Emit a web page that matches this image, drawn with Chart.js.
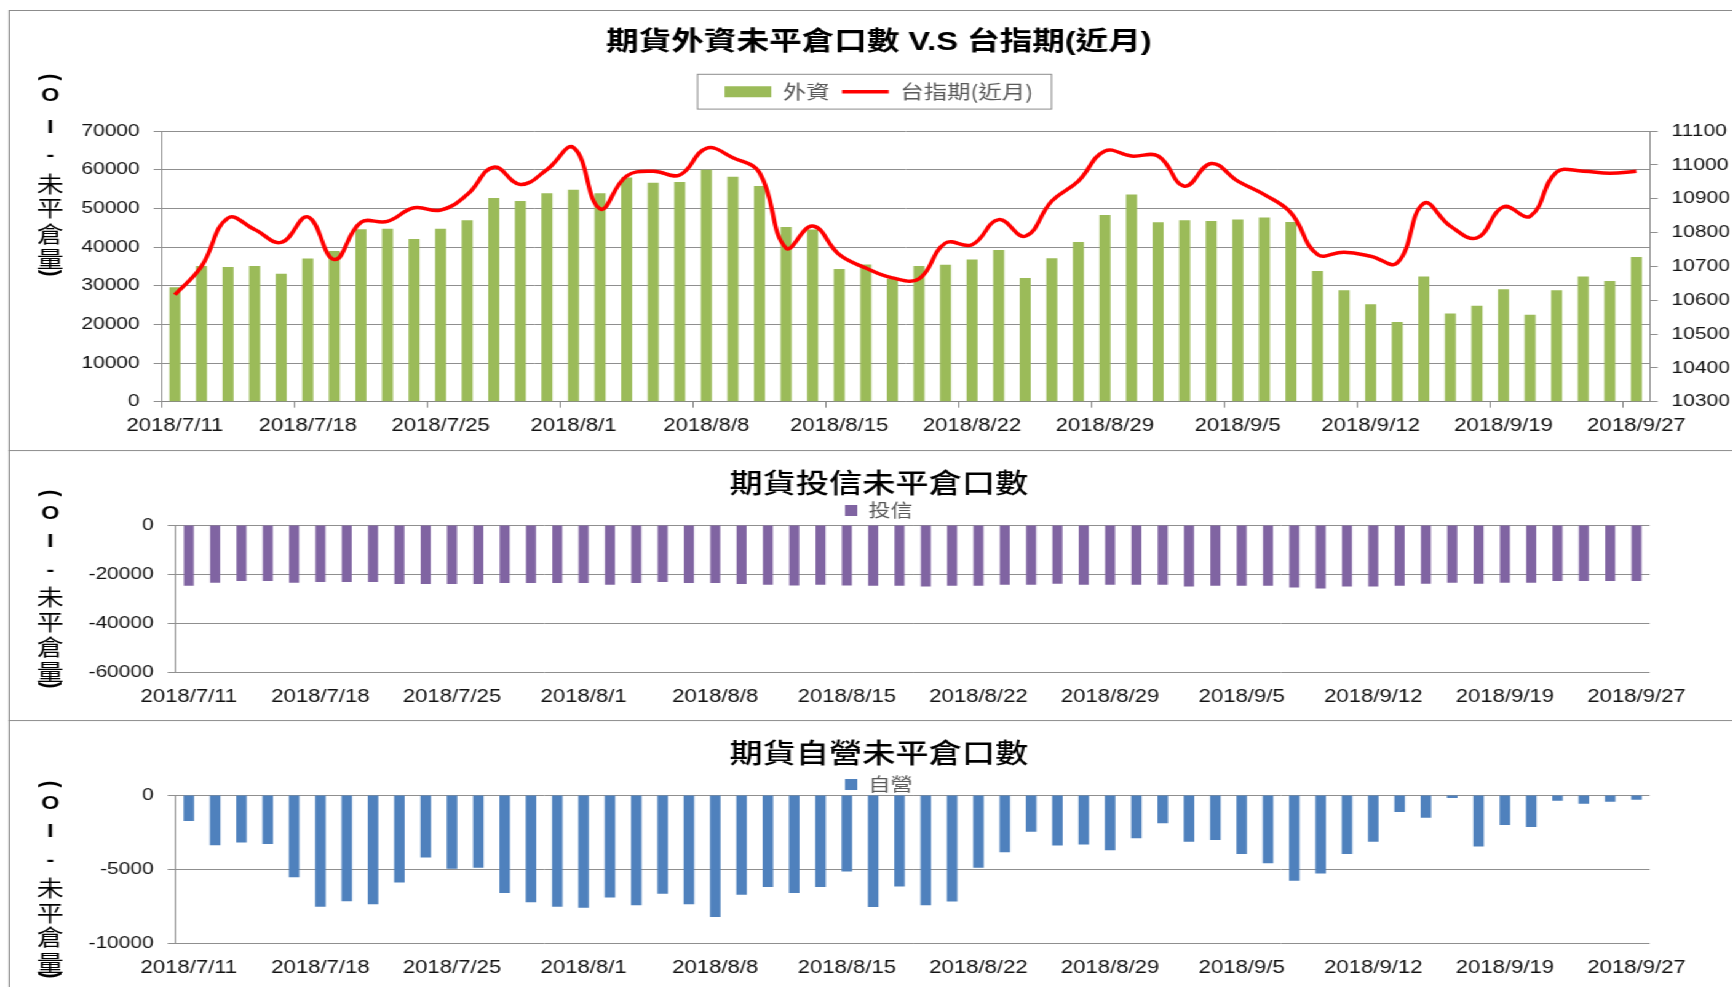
<!DOCTYPE html>
<html>
<head>
<meta charset="utf-8">
<script src="https://cdn.jsdelivr.net/npm/chart.js@4.4.1/dist/chart.umd.min.js"></script>
<style>
html,body{margin:0;padding:0;background:#fff;overflow:hidden;width:1732px;height:987px;}
#wrap{position:absolute;left:0;top:0;width:1440px;height:987px;transform:scaleX(1.23);transform-origin:0 0;}
.box{position:absolute;left:7.3px;width:1500px;border:1.5px solid #8c8c8c;box-sizing:border-box;}
canvas{position:absolute;left:7.3px;}
</style>
</head>
<body>
<div id="wrap">
  <div class="box" style="top:10px;height:441px"></div>
  <div class="box" style="top:450px;height:271px"></div>
  <div class="box" style="top:720px;height:320px"></div>
  <canvas id="c1" width="1415" height="440" style="top:10px"></canvas>
  <canvas id="c2" width="1415" height="270" style="top:450px"></canvas>
  <canvas id="c3" width="1415" height="267" style="top:720px"></canvas>
</div>
<script>
// ---------------- data ----------------
const dates = ['2018/7/11','2018/7/12','2018/7/13','2018/7/16','2018/7/17','2018/7/18','2018/7/19','2018/7/20','2018/7/23','2018/7/24',
  '2018/7/25','2018/7/26','2018/7/27','2018/7/30','2018/7/31','2018/8/1','2018/8/2','2018/8/3','2018/8/6','2018/8/7',
  '2018/8/8','2018/8/9','2018/8/10','2018/8/13','2018/8/14','2018/8/15','2018/8/16','2018/8/17','2018/8/20','2018/8/21',
  '2018/8/22','2018/8/23','2018/8/24','2018/8/27','2018/8/28','2018/8/29','2018/8/30','2018/8/31','2018/9/3','2018/9/4',
  '2018/9/5','2018/9/6','2018/9/7','2018/9/10','2018/9/11','2018/9/12','2018/9/13','2018/9/14','2018/9/17','2018/9/18',
  '2018/9/19','2018/9/20','2018/9/21','2018/9/25','2018/9/26','2018/9/27'];

const foreignOI = [29600,35100,34800,35100,33100,37000,39000,44600,44700,42100,
  44700,46900,52700,51900,53900,54800,53900,58000,56600,56800,
  60000,58200,55800,45200,44500,34300,35500,31800,35100,35400,
  36800,39200,32000,37100,41300,48300,53600,46400,46900,46700,
  47100,47600,46500,33800,28800,25200,20600,32400,22800,24800,
  29100,22500,28800,32400,31200,37400];

const taiexNear = [10616,10700,10843,10809,10771,10846,10720,10830,10833,10873,
  10866,10912,10993,10942,10986,11051,10870,10967,10981,10970,
  11049,11021,10977,10754,10819,10735,10695,10666,10663,10769,
  10764,10838,10789,10893,10952,11041,11026,11026,10937,11004,
  10952,10912,10858,10735,10742,10730,10710,10886,10819,10784,
  10876,10848,10979,10981,10975,10981];

const trustOI = [-24700,-23500,-22800,-22800,-23500,-23200,-23200,-23200,-24000,-24000,
  -24000,-24000,-23600,-23600,-23600,-23600,-24300,-23600,-23200,-23600,
  -23600,-24000,-24300,-24600,-24300,-24600,-24700,-24700,-25100,-24700,
  -24700,-24300,-24300,-23900,-24300,-24300,-24300,-24300,-25100,-24700,
  -24700,-24700,-25500,-25900,-25100,-25100,-24700,-23900,-23500,-23900,
  -23500,-23500,-22800,-22800,-22800,-22800];

const dealerOI = [-1750,-3390,-3210,-3300,-5540,-7540,-7160,-7360,-5900,-4220,
  -4980,-4910,-6600,-7230,-7540,-7600,-6910,-7430,-6660,-7360,
  -8230,-6730,-6210,-6600,-6210,-5160,-7560,-6170,-7430,-7180,
  -4910,-3860,-2470,-3410,-3340,-3720,-2910,-1900,-3160,-3030,
  -3970,-4600,-5790,-5300,-3970,-3160,-1140,-1530,-200,-3480,
  -2020,-2150,-380,-590,-450,-320];

const titles = ['期貨外資未平倉口數 V.S 台指期(近月)', '期貨投信未平倉口數', '期貨自營未平倉口數'];
const seriesNames = ['外資', '台指期(近月)', '投信', '自營'];
const axisTitle = '(OI-未平倉量)';
const labelEvery = 5;

// ---------------- styling helpers ----------------
const LATIN = "'Liberation Sans', 'Noto Sans CJK TC', sans-serif";
const CJK = "'Noto Sans CJK TC', 'Liberation Sans', sans-serif";
Chart.defaults.font.family = LATIN;
Chart.defaults.color = '#111';
const GRID = '#8f8f8f';
const LEGEND_TXT = '#595959';

function vLabel(ys) {
  return {
    id: 'vlabel',
    afterDraw(chart) {
      const ctx = chart.ctx;
      const x = 33.8;
      ctx.save();
      ctx.fillStyle = '#000';
      ctx.textAlign = 'center';
      ctx.textBaseline = 'middle';
      Array.from(axisTitle).forEach((ch, i) => {
        const y = ys[i];
        if (ch === '(' || ch === ')') {
          ctx.save();
          ctx.translate(x, y);
          ctx.rotate(Math.PI / 2);
          ctx.font = 'bold 20px ' + LATIN;
          ctx.fillText(ch, 0, 0);
          ctx.restore();
        } else if (/[A-Za-z\-]/.test(ch)) {
          ctx.font = 'bold 19px ' + LATIN;
          ctx.fillText(ch, x, y);
        } else {
          ctx.font = '22px ' + CJK;
          ctx.fillText(ch, x, y);
        }
      });
      ctx.restore();
    }
  };
}

function legendAdjust(extra) {
  return {
    id: 'legendAdjust',
    beforeLayout(chart) {
      const lg = chart.legend;
      if (lg && !lg.__adj) {
        const f = lg.fit.bind(lg);
        lg.fit = function () { f(); this.height += extra; };
        lg.__adj = true;
      }
    }
  };
}

const legendFrame = {
  id: 'legendFrame',
  afterDraw(chart) {
    const hb = chart.legend && chart.legend.legendHitBoxes;
    if (!hb || !hb.length) return;
    const first = hb[0], last = hb[hb.length - 1];
    const cy = first.top + first.height / 2;
    const l = first.left - 22, r = last.left + last.width + 15;
    const ctx = chart.ctx;
    ctx.save();
    ctx.strokeStyle = '#8c8c8c';
    ctx.lineWidth = 1;
    ctx.strokeRect(l, cy - 17.4, r - l, 34.8);
    ctx.restore();
  }
};

const numLabel = v => String(v);

function xAxis(heightPx, withTicks) {
  return {
    type: 'category',
    offset: true,
    grid: {
      offset: true,
      drawOnChartArea: false,
      drawTicks: withTicks,
      tickLength: 6,
      tickWidth: 1,
      tickColor: ctx => (ctx.index % labelEvery === 0 ? '#868686' : 'rgba(0,0,0,0)')
    },
    border: { display: withTicks, color: '#868686' },
    ticks: {
      autoSkip: false, maxRotation: 0, minRotation: 0,
      padding: withTicks ? 8 : 14,
      font: { size: 18 }, color: '#111',
      callback: function (v, i) { return i % labelEvery === 0 ? this.getLabelForValue(v) : ''; }
    },
    afterFit: s => { s.height = heightPx; }
  };
}

function yAxis(min, max, step, widthPx, extra) {
  return Object.assign({
    type: 'linear', position: 'left', min, max,
    grid: { color: GRID, tickColor: GRID, tickLength: 6.5, lineWidth: 1 },
    border: { display: true, color: GRID },
    ticks: { stepSize: step, padding: 11.4, font: { size: 17 }, color: '#111', callback: numLabel },
    afterFit: s => { s.width = widthPx; }
  }, extra || {});
}

// empty right-hand spacer axis so the plot ends where the reference plot ends
const spacerAxis = {
  type: 'linear', position: 'right', min: 0, max: 1, display: true,
  grid: { display: false, drawTicks: false },
  border: { display: false },
  ticks: { display: false },
  afterFit: s => { s.width = 80.8; }
};

const common = {
  responsive: false,
  maintainAspectRatio: false,
  animation: false,
  devicePixelRatio: 1,
  events: []
};

// ---------------- chart 1 ----------------
new Chart(document.getElementById('c1'), {
  type: 'bar',
  data: {
    labels: dates,
    datasets: [
      { type: 'bar', label: seriesNames[0], data: foreignOI, backgroundColor: '#9BBB59', borderWidth: 0,
        yAxisID: 'y', order: 1, categoryPercentage: 1, barPercentage: 0.415 },
      { type: 'line', label: seriesNames[1], data: taiexNear, borderColor: '#FF0000', backgroundColor: '#FF0000',
        borderWidth: 3.5, pointRadius: 0, tension: 0.42, yAxisID: 'y1', order: 0 }
    ]
  },
  options: Object.assign({}, common, {
    layout: { padding: 0 },
    scales: {
      x: xAxis(48.3, true),
      y: yAxis(0, 70000, 10000, 124.4),
      y1: yAxis(10300, 11100, 100, 80.8, {
        position: 'right',
        grid: { drawOnChartArea: false, color: GRID, tickColor: GRID, tickLength: 6.5 },
        afterFit: s => { s.width = 80.8; }
      })
    },
    plugins: {
      tooltip: { enabled: false },
      title: {
        display: true, text: titles[0], color: '#000',
        font: { size: 26.5, weight: 'bold', family: LATIN, lineHeight: 1.2 },
        padding: { top: 17.1, bottom: 13.3 }
      },
      legend: {
        display: true, position: 'top',
        labels: {
          usePointStyle: true, pointStyleWidth: 38, boxHeight: 11, padding: 10,
          font: { size: 19, family: CJK }, color: LEGEND_TXT,
          sort: (a, b) => a.datasetIndex - b.datasetIndex,
          generateLabels: chart => {
            const items = Chart.defaults.plugins.legend.labels.generateLabels(chart);
            items.forEach(it => {
              if (it.datasetIndex === 0) { it.pointStyle = 'rect'; it.lineWidth = 0; it.fillStyle = '#9BBB59'; }
              else { it.pointStyle = 'line'; it.lineWidth = 3.5; it.strokeStyle = '#FF0000'; }
            });
            return items;
          }
        }
      }
    }
  }),
  plugins: [legendAdjust(19.8), legendFrame, vLabel([67, 86, 117.5, 145.5, 174, 198, 224, 248.5, 263])]
});

// ---------------- chart 2 / 3 ----------------
function smallChart(id, title, name, data, color, ymin, ystep, xh, titlePad, legendExtra, barPct, ys) {
  return new Chart(document.getElementById(id), {
    type: 'bar',
    data: {
      labels: dates,
      datasets: [{ label: name, data, backgroundColor: color, borderWidth: 0, yAxisID: 'y',
        categoryPercentage: 1, barPercentage: barPct }]
    },
    options: Object.assign({}, common, {
      layout: { padding: 0 },
      scales: {
        x: xAxis(xh, false),
        y: yAxis(ymin, 0, ystep, 135.8),
        yr: spacerAxis
      },
      plugins: {
        tooltip: { enabled: false },
        title: {
          display: true, text: title, color: '#000',
          font: { size: 27, weight: '500', family: CJK, lineHeight: 1.2 },
          padding: titlePad
        },
        legend: {
          display: true, position: 'top',
          labels: { boxWidth: 10, boxHeight: 11, padding: 2, font: { size: 18, family: CJK }, color: LEGEND_TXT }
        }
      }
    }),
    plugins: [legendAdjust(legendExtra), vLabel(ys)]
  });
}

smallChart('c2', titles[1], seriesNames[2], trustOI, '#8064A2', -60000, 20000, 47.7,
  { top: 16.3, bottom: 0.8 }, -4.5, 0.38, [43, 64, 92, 121, 146.5, 171.7, 196.7, 221.7, 235]);
smallChart('c3', titles[2], seriesNames[3], dealerOI, '#4F81BD', -10000, 5000, 43.7,
  { top: 16.5, bottom: 4.6 }, -8.5, 0.4, [64, 84, 112, 141, 167.5, 192.5, 216.7, 243, 255]);
</script>
</body>
</html>
